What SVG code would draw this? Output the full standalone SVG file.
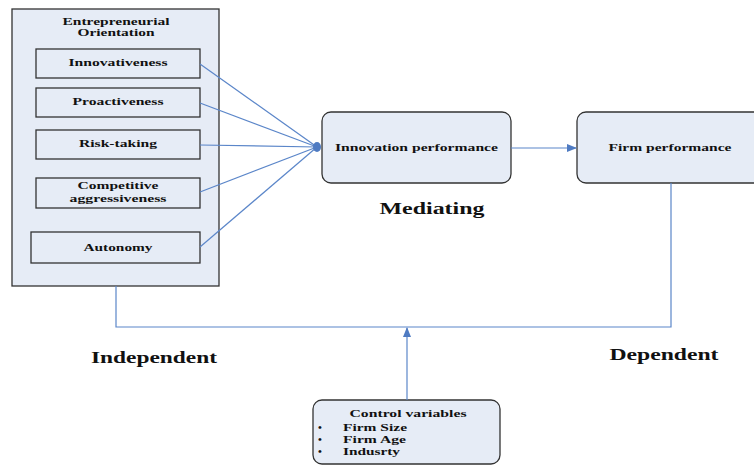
<svg xmlns="http://www.w3.org/2000/svg" width="754" height="466" viewBox="0 0 754 466">
<defs>
<style>
.box{fill:#e6ecf6;stroke:#333;stroke-width:1.3}
text{font-family:"Liberation Serif","Times New Roman",serif;font-weight:bold;fill:#111}
.t{font-size:11px;text-anchor:middle}
.l{font-size:11px}
.big{font-size:17px;text-anchor:middle}
.c{stroke:#5b86c9;stroke-width:1.2;fill:none}
</style>
<marker id="ah" markerWidth="10" markerHeight="8" refX="9" refY="4" orient="auto" markerUnits="userSpaceOnUse">
<path d="M0,0 L10,4 L0,8 z" fill="#4f7bc2"/>
</marker>
</defs>
<rect width="754" height="466" fill="#fff"/>
<g id="eo">
<rect class="box" x="12" y="9" width="207" height="277"/>
<text class="t" x="116" y="25" textLength="107" lengthAdjust="spacingAndGlyphs">Entrepreneurial</text>
<text class="t" x="116" y="36" textLength="77" lengthAdjust="spacingAndGlyphs">Orientation</text>
</g>
<g id="innovativeness"><rect class="box" x="36" y="49" width="164" height="29"/><text class="t" x="118" y="66" textLength="99" lengthAdjust="spacingAndGlyphs">Innovativeness</text></g>
<g id="proactiveness"><rect class="box" x="36" y="88" width="164" height="29"/><text class="t" x="118" y="105" textLength="91" lengthAdjust="spacingAndGlyphs">Proactiveness</text></g>
<g id="risk"><rect class="box" x="36" y="130" width="164" height="29"/><text class="t" x="118" y="147" textLength="78" lengthAdjust="spacingAndGlyphs">Risk-taking</text></g>
<g id="competitive"><rect class="box" x="36" y="178" width="164" height="30"/><text class="t" x="118" y="189" textLength="81" lengthAdjust="spacingAndGlyphs">Competitive</text><text class="t" x="118" y="202" textLength="97" lengthAdjust="spacingAndGlyphs">aggressiveness</text></g>
<g id="autonomy"><rect class="box" x="31" y="232" width="169" height="31"/><text class="t" x="118" y="251" textLength="69" lengthAdjust="spacingAndGlyphs">Autonomy</text></g>
<g id="innovation"><rect class="box" x="322" y="112" width="189" height="71" rx="9"/><text class="t" x="416.5" y="151" textLength="163" lengthAdjust="spacingAndGlyphs">Innovation performance</text></g>
<g id="firm"><rect class="box" x="577" y="112" width="190" height="71" rx="9"/><text class="t" x="670" y="151" textLength="123" lengthAdjust="spacingAndGlyphs">Firm performance</text></g>
<g id="control"><rect class="box" x="313" y="400" width="187" height="64" rx="9"/>
<text class="t" x="408" y="417" textLength="117" lengthAdjust="spacingAndGlyphs">Control variables</text>
<text class="l" x="318" y="431">•</text><text class="l" x="343" y="431" textLength="64" lengthAdjust="spacingAndGlyphs">Firm Size</text>
<text class="l" x="318" y="443">•</text><text class="l" x="343" y="443" textLength="63" lengthAdjust="spacingAndGlyphs">Firm Age</text>
<text class="l" x="318" y="455">•</text><text class="l" x="343" y="455" textLength="57" lengthAdjust="spacingAndGlyphs">Indusrty</text>
</g>
<g id="labels">
<text class="big" x="432" y="214" textLength="105" lengthAdjust="spacingAndGlyphs">Mediating</text>
<text class="big" x="154" y="363" textLength="126" lengthAdjust="spacingAndGlyphs">Independent</text>
<text class="big" x="664" y="360" textLength="109" lengthAdjust="spacingAndGlyphs">Dependent</text>
</g>
<g id="connectors">
<line class="c" x1="200" y1="64" x2="317" y2="147"/>
<line class="c" x1="200" y1="103" x2="317" y2="147"/>
<line class="c" x1="200" y1="145" x2="317" y2="147"/>
<line class="c" x1="200" y1="192" x2="317" y2="147"/>
<line class="c" x1="200" y1="247" x2="317" y2="147"/>
<ellipse cx="317" cy="147" rx="4" ry="5" fill="#4f7bc2"/>
<line class="c" x1="511" y1="148" x2="576" y2="148" marker-end="url(#ah)"/>
<polyline class="c" points="116,286 116,327 671,327 671,183"/>
<line class="c" x1="407" y1="400" x2="407" y2="328" marker-end="url(#ah)"/>
</g>
</svg>
